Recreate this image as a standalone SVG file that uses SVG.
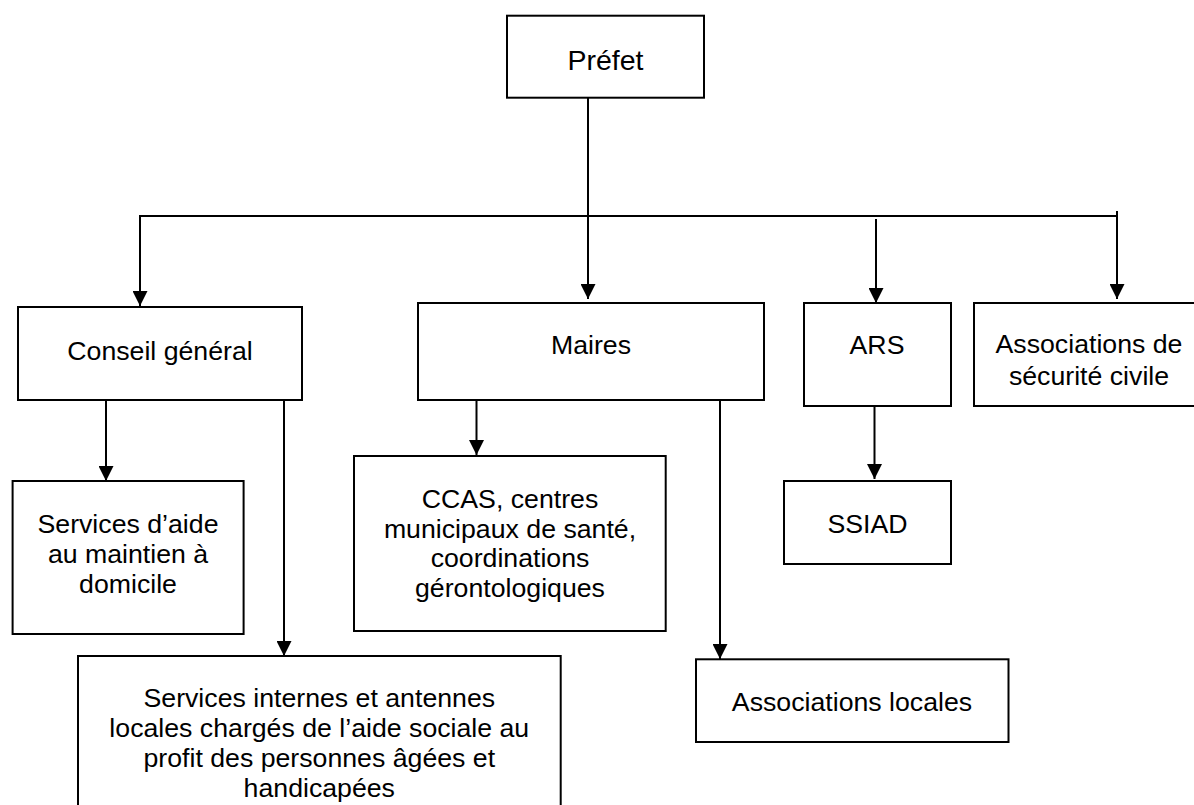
<svg xmlns="http://www.w3.org/2000/svg" width="1194" height="805" viewBox="0 0 1194 805">
<defs>
<marker id="arr" viewBox="0 0 15 15" refX="15" refY="7.5" markerWidth="15" markerHeight="15" markerUnits="userSpaceOnUse" orient="auto">
<path d="M0,0 L15,7.5 L0,15 z" fill="#000"/>
</marker>
<style>
.box{fill:#fff;stroke:#000;stroke-width:2}
.t{font-family:"Liberation Sans",Arial,sans-serif;font-size:26.7px;fill:#000;text-anchor:middle}
.c{fill:none;stroke:#000;stroke-width:2}
</style>
</defs>
<rect width="1194" height="805" fill="#fff"/>
<g id="connectors">
<path class="c" d="M588,98 L588,299" marker-end="url(#arr)"/>
<path class="c" d="M1117,216 L140,216 L140,306" marker-end="url(#arr)"/>
<path class="c" d="M1117,211 L1117,299" marker-end="url(#arr)"/>
<path class="c" d="M876,219 L876,303" marker-end="url(#arr)"/>
<path class="c" d="M106,400 L106,481" marker-end="url(#arr)"/>
<path class="c" d="M284,400 L284,656" marker-end="url(#arr)"/>
<path class="c" d="M476.5,400 L476.5,455" marker-end="url(#arr)"/>
<path class="c" d="M720,395 L720,659" marker-end="url(#arr)"/>
<path class="c" d="M874.5,406 L874.5,479" marker-end="url(#arr)"/>
</g>
<g id="prefet">
<rect class="box" x="507" y="15.7" width="197" height="82"/>
<text class="t" x="605.5" y="70" style="font-size:28.5px">Préfet</text>
</g>
<g id="conseil-general">
<rect class="box" x="18" y="307" width="284" height="93"/>
<text class="t" x="160" y="360">Conseil général</text>
</g>
<g id="maires">
<rect class="box" x="418" y="303" width="346" height="97"/>
<text class="t" x="591" y="354">Maires</text>
</g>
<g id="ars">
<rect class="box" x="804" y="303" width="147" height="103"/>
<text class="t" x="877" y="354">ARS</text>
</g>
<g id="associations-securite-civile">
<rect class="box" x="974" y="303" width="240" height="103"/>
<text class="t" x="1089" y="353">Associations de</text>
<text class="t" x="1089" y="385">sécurité civile</text>
</g>
<g id="services-aide">
<rect class="box" x="12.6" y="481" width="231" height="153"/>
<text class="t" x="128" y="533">Services d’aide</text>
<text class="t" x="128" y="563">au maintien à</text>
<text class="t" x="128" y="593">domicile</text>
</g>
<g id="ccas">
<rect class="box" x="354" y="456" width="311.7" height="175"/>
<text class="t" x="510" y="508">CCAS, centres</text>
<text class="t" x="510" y="537.5">municipaux de santé,</text>
<text class="t" x="510" y="567">coordinations</text>
<text class="t" x="510" y="596.5">gérontologiques</text>
</g>
<g id="ssiad">
<rect class="box" x="784" y="481" width="167" height="83"/>
<text class="t" x="867.5" y="533">SSIAD</text>
</g>
<g id="associations-locales">
<rect class="box" x="696" y="659.3" width="312.5" height="82.7"/>
<text class="t" x="852" y="711">Associations locales</text>
</g>
<g id="services-internes">
<rect class="box" x="78" y="656" width="482.7" height="200"/>
<text class="t" x="319.3" y="707">Services internes et antennes</text>
<text class="t" x="319.3" y="737">locales chargés de l’aide sociale au</text>
<text class="t" x="319.3" y="767">profit des personnes âgées et</text>
<text class="t" x="319.3" y="797">handicapées</text>
</g>
</svg>
